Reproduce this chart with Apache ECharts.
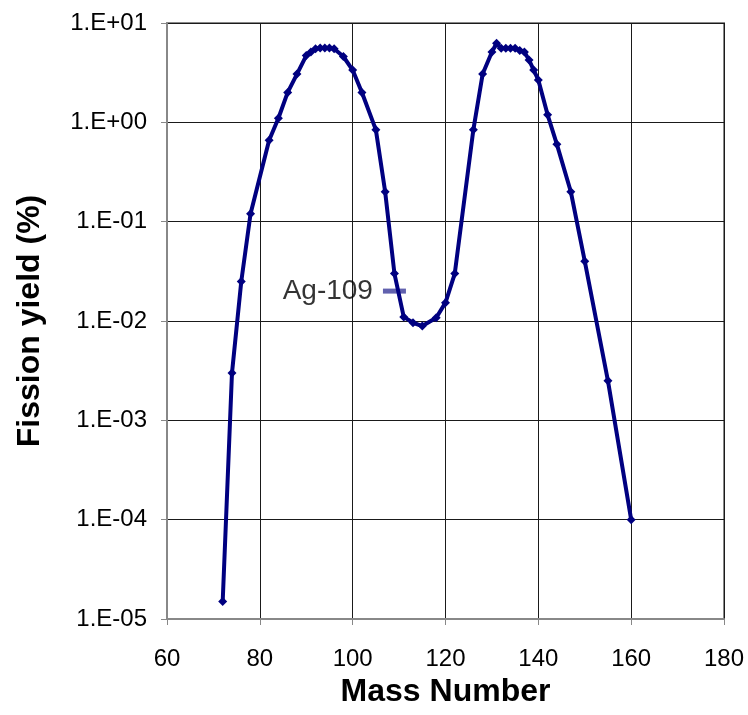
<!DOCTYPE html>
<html>
<head>
<meta charset="utf-8">
<script src="https://cdn.jsdelivr.net/npm/echarts@6/dist/echarts.min.js"></script>
<style>
html,body{margin:0;padding:0;background:#fff;}
#chart{width:748px;height:715px;}
</style>
</head>
<body>
<div id="chart"></div>
<script>
// Data
var massNumbers = [72,74,76,78,82,84,86,88,90,91,92,93,94,95,96,98,100,102,105,107,109,111,113,115,118,120,122,126,128,130,131,132,133,134,135,136,137,138,139,140,142,144,147,150,155,160];
var fissionYield = [1.5e-5,3e-3,2.5e-2,0.12,0.66,1.1,2.0,3.06,4.7,5.1,5.5,5.6,5.6,5.6,5.5,4.6,3.36,2.0,0.84,0.2,0.03,0.011,0.0096,0.0089,0.0108,0.0153,0.03,0.84,3.06,5.1,6.25,5.56,5.56,5.56,5.56,5.3,5.1,4.24,3.36,2.67,1.19,0.6,0.2,0.04,0.0025,1e-4];
var agMass = [109];
var agYield = [0.02];
var agLabel = 'Ag-109';
var xTicks = [60,80,100,120,140,160,180];
var yTickLabels = ['1.E-05','1.E-04','1.E-03','1.E-02','1.E-01','1.E+00','1.E+01'];

var chart = echarts.init(document.getElementById('chart'));
var fontFam = '"Liberation Sans", Arial, sans-serif';
var mainData = massNumbers.map(function(m,i){return [m, fissionYield[i]];});
var agData = agMass.map(function(m,i){return [m, agYield[i]];});

chart.setOption({
  animation: false,
  backgroundColor: '#fff',
  grid: {left: 167, right: 24, top: 23, bottom: 96, show: true, borderColor: '#888', borderWidth: 2, containLabel: false},
  xAxis: {
    type: 'value', min: xTicks[0], max: xTicks[xTicks.length-1], interval: 20,
    name: 'Mass Number', nameLocation: 'middle', nameGap: 55,
    nameTextStyle: {fontFamily: fontFam, fontWeight: 'bold', fontSize: 32, color: '#000'},
    axisLine: {show: true, lineStyle: {color: '#888', width: 2}},
    axisTick: {show: true, length: 6, inside: false, lineStyle: {color: '#888', width: 1}},
    axisLabel: {fontFamily: fontFam, fontSize: 24, color: '#000', margin: 28},
    splitLine: {show: true, lineStyle: {color: '#1a1a1a', width: 1}}
  },
  yAxis: {
    type: 'log', logBase: 10, min: 1e-5, max: 10,
    name: 'Fission yield (%)', nameLocation: 'middle', nameGap: 121,
    nameTextStyle: {fontFamily: fontFam, fontWeight: 'bold', fontSize: 32, color: '#000'},
    axisLine: {show: true, lineStyle: {color: '#888', width: 2}},
    axisTick: {show: true, length: 6, inside: false, lineStyle: {color: '#888', width: 1}},
    axisLabel: {fontFamily: fontFam, fontSize: 24, color: '#000', margin: 20,
      formatter: function(v){
        var e = Math.round(Math.log10(v));
        return yTickLabels[e + 5];
      }},
    splitLine: {show: true, lineStyle: {color: '#1a1a1a', width: 1}}
  },
  series: [
    {
      type: 'line', data: mainData, symbol: 'diamond', symbolSize: 9,
      lineStyle: {color: '#000080', width: 4},
      itemStyle: {color: '#000080'}
    },
    {
      type: 'scatter', data: agData, symbol: 'rect', symbolSize: [23, 5],
      itemStyle: {color: '#3a3a9a'},
      label: {show: true, position: 'left', distance: 10, formatter: agLabel,
        fontFamily: fontFam, fontSize: 28, color: '#000'}
    }
  ]
});
</script>
</body>
</html>
